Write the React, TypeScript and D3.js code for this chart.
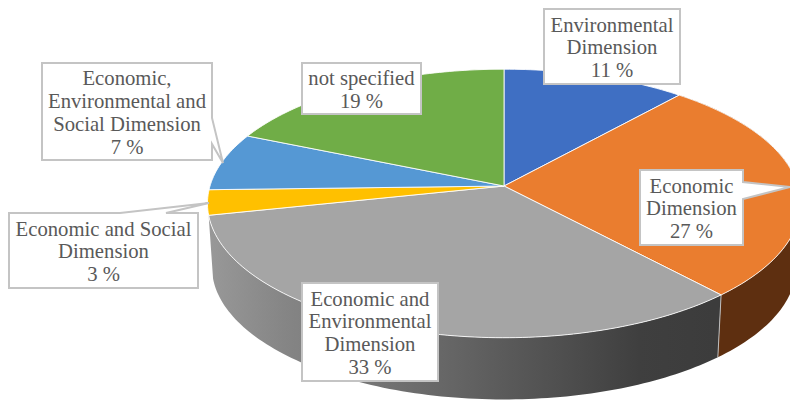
import React from "react";
import * as d3 from "d3";

const WIDTH = 790;
const HEIGHT = 401;

// Share of each sustainability dimension, clockwise from twelve o'clock.
const categories = [
  "Environmental Dimension",
  "Economic Dimension",
  "Economic and Environmental Dimension",
  "Economic and Social Dimension",
  "Economic, Environmental and Social Dimension",
  "not specified",
];
const shares = [11, 27, 33, 3, 7, 19];
const topColors = ["#3f6fc3", "#ea7d2f", "#a5a5a5", "#ffc000", "#5598d4", "#70ad47"];
// Only the two near slices show a side wall.
const wallColors: (string | null)[] = [null, "#5e2f10", "url(#grayWall)", null, null, null];

// Wrapped label text for each slice.
const labelLines = [
  ["Environmental", "Dimension", "11 %"],
  ["Economic", "Dimension", "27 %"],
  ["Economic and", "Environmental", "Dimension", "33 %"],
  ["Economic and Social", "Dimension", "3 %"],
  ["Economic,", "Environmental and", "Social Dimension", "7 %"],
  ["not specified", "19 %"],
];

// Callout rectangles: x, y, width, height.
const labelBoxes = [
  [544, 9, 136, 75],
  [640, 170, 103, 75],
  [302, 283, 136, 98],
  [9, 213, 189, 75],
  [42, 63, 170, 97],
  [302, 63, 119, 51],
];

// Callout outlines that carry a pointer; the rest are plain rectangles.
const pointers: Record<number, [number, number][]> = {
  1: [[640, 170], [743, 170], [743, 182], [790, 187], [743, 199], [743, 245], [640, 245]],
  3: [[9, 213], [120, 213], [209, 203], [166, 213], [198, 213], [198, 288], [9, 288]],
  4: [[42, 63], [212, 63], [212, 118], [223, 163], [212, 144], [212, 160], [42, 160]],
};

// Tilted disc with a mild perspective: the near rim sits lower and wider.
const APEX_X = 504;
const APEX_Y = 186;
const RADIUS_X = 294;
const RADIUS_Y = 132;
const PERSPECTIVE = 0.13;
const DEPTH = 64;
const BOTTOM_SCALE = 0.985;
const ANGLE_SKEW = 0.035;

type Pt = [number, number];

function rimTop(angle: number): Pt {
  const a = angle + ANGLE_SKEW * Math.abs(Math.sin(angle));
  const u = Math.sin(a);
  const v = -Math.cos(a);
  const s = 1 / (1 - PERSPECTIVE * v);
  return [APEX_X + RADIUS_X * u * s, APEX_Y + RADIUS_Y * v * s];
}

function rimBottom(angle: number): Pt {
  const [x, y] = rimTop(angle);
  return [
    APEX_X + (x - APEX_X) * BOTTOM_SCALE,
    APEX_Y + (y - APEX_Y) * BOTTOM_SCALE + DEPTH,
  ];
}

function sampleAngles(start: number, end: number): number[] {
  const n = Math.max(2, Math.ceil((end - start) / 0.02));
  return d3.range(n + 1).map((i) => start + ((end - start) * i) / n);
}

const lineGen = d3.line<Pt>();
const closed = (pts: Pt[]) => `${lineGen(pts)}Z`;

export default function App() {
  const slices = d3.pie<number>().sort(null)(shares);

  return (
    <svg
      width={WIDTH}
      height={HEIGHT}
      viewBox={`0 0 ${WIDTH} ${HEIGHT}`}
      style={{ position: "absolute", left: 0, top: 0, background: "#ffffff" }}
    >
      <defs>
        <linearGradient id="grayWall" gradientUnits="userSpaceOnUse" x1={210} x2={715} y1={0} y2={0}>
          <stop offset="0" stopColor="#989898" />
          <stop offset="0.15" stopColor="#858585" />
          <stop offset="0.5" stopColor="#636363" />
          <stop offset="0.85" stopColor="#3f3f3f" />
          <stop offset="1" stopColor="#3c3c3c" />
        </linearGradient>
      </defs>

      {/* Side wall of the disc */}
      {slices.map((d, i) => {
        const fill = wallColors[i];
        if (!fill) return null;
        const angles = sampleAngles(d.startAngle, d.endAngle);
        const pts: Pt[] = [...angles.map(rimTop), ...angles.slice().reverse().map(rimBottom)];
        return <path key={i} d={closed(pts)} fill={fill} />;
      })}
      <path
        d={lineGen([rimTop(slices[1].endAngle), rimBottom(slices[1].endAngle)]) ?? ""}
        stroke="#bdbdbd"
        strokeWidth={1}
        fill="none"
      />

      {/* Top face */}
      {slices.map((d, i) => {
        const pts: Pt[] = [[APEX_X, APEX_Y], ...sampleAngles(d.startAngle, d.endAngle).map(rimTop)];
        return (
          <path
            key={i}
            d={closed(pts)}
            fill={topColors[i]}
            stroke="#ffffff"
            strokeWidth={1}
            strokeLinejoin="round"
            strokeOpacity={0.85}
          />
        );
      })}

      {/* Callout labels */}
      {categories.map((name, i) => {
        const [x, y, w, h] = labelBoxes[i];
        const lines = labelLines[i];
        const lineHeight = 22.8;
        const cx = x + w / 2;
        const firstY = y + h / 2 - ((lines.length - 1) * lineHeight) / 2 + 1;
        const outline = pointers[i];
        return (
          <g key={name}>
            {outline ? (
              <path d={closed(outline)} fill="#ffffff" stroke="#c4c4c4" strokeWidth={2} strokeLinejoin="miter" />
            ) : (
              <rect x={x} y={y} width={w} height={h} fill="#ffffff" stroke="#c4c4c4" strokeWidth={2} />
            )}
            <text
              textAnchor="middle"
              fontFamily="'Liberation Serif', serif"
              fontSize={20.7}
              fill="#595959"
            >
              {lines.map((t, k) => (
                <tspan key={k} x={cx} y={firstY + k * lineHeight} dy="0.33em">
                  {t}
                </tspan>
              ))}
            </text>
          </g>
        );
      })}
    </svg>
  );
}
